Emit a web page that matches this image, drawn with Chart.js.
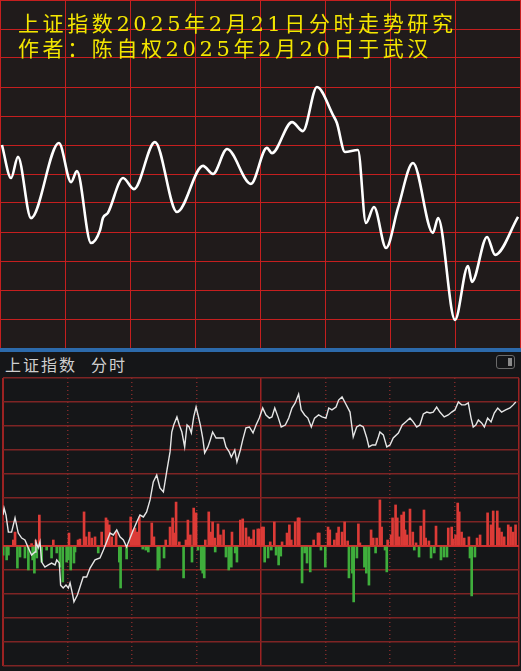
<!DOCTYPE html>
<html>
<head>
<meta charset="utf-8">
<script src="https://cdn.jsdelivr.net/npm/chart.js@4/dist/chart.umd.min.js"></script>
<style>
body { margin: 0; background: #151618; width: 521px; height: 671px; overflow: hidden; position: relative; font-family: "Noto Sans CJK SC", sans-serif; }
#top { position: absolute; left: 0; top: 0; width: 521px; height: 348px; background: #201b1b; }
#topChart { position: absolute; left: 0; top: 0; }
#title { position: absolute; left: 18px; top: 12px; color: #f3e600; font-family: "DejaVu Serif", "Noto Sans CJK SC"; font-size: 21px; letter-spacing: 3.6px; line-height: 25px; white-space: nowrap; }
#sep { position: absolute; left: 0; top: 348px; width: 521px; height: 4px; background: #2c6aab; }
#head { position: absolute; left: 5px; top: 354px; color: #cfcfcf; font-size: 16px; letter-spacing: 2px; line-height: 20px; white-space: nowrap; }
#btn { position: absolute; left: 496px; top: 355px; width: 17px; height: 12px; border: 1.5px solid #6a6a6a; border-radius: 3px; }
#btn i { position: absolute; right: 2px; top: 2px; width: 4px; height: 8px; background: #8a8a8a; }
#botChart { position: absolute; left: 0; top: 377px; }
</style>
</head>
<body>
<div id="top"><canvas id="topChart" width="521" height="348"></canvas></div>
<div id="title">上证指数2025年2月21日分时走势研究<br>作者：陈自权2025年2月20日于武汉</div>
<div id="sep"></div>
<div id="head"><span>上证指数</span><span style="margin-left:14px">分时</span></div>
<div id="btn"><i></i></div>
<canvas id="botChart" width="521" height="291"></canvas>
<script>
// 上图：手绘的预测走势（分钟, 格数）
const topMin = [0.9, 5.1, 8.3, 14.3, 27.2, 32.8, 35.5, 42.0, 46.2, 47.5, 49.8, 56.8, 61.8, 71.5, 81.7, 93.7, 98.3, 104.8, 115.8, 123.2, 125.5, 134.8, 139.8, 146.3, 153.7, 155.5, 159.2, 165.2, 168.9, 172.6, 178.2, 183.7, 190.6, 199.8, 202.2, 210.0, 216.0, 217.8, 224.8, 228.5, 239.1];
const topVal = [7.0, 5.86, 6.59, 4.48, 7.07, 5.72, 6.1, 3.62, 4.07, 4.48, 4.66, 5.86, 5.48, 7.1, 4.69, 6.28, 6.0, 6.86, 5.66, 6.9, 6.72, 7.79, 7.48, 9.0, 8.03, 7.76, 6.76, 6.83, 4.31, 4.86, 3.45, 4.83, 6.38, 3.97, 4.48, 0.97, 2.83, 2.28, 3.83, 3.21, 4.52];

// 下图：实际分时线
const priceMin = [0, 0.5, 1.4, 2.5, 4.0, 5.6, 7.1, 8.7, 10.2, 11.8, 13.3, 14.9, 15.3, 16.4, 17.2, 18.0, 19.5, 21.1, 22.6, 24.2, 25.0, 26.2, 26.8, 28.0, 29.3, 30.4, 31.2, 32.4, 33.0, 34.6, 35.8, 37.3, 38.9, 40.5, 42.8, 45.1, 46.7, 48.2, 49.8, 51.3, 52.9, 54.4, 56.0, 57.5, 59.1, 60.6, 62.2, 63.7, 65.3, 66.8, 68.4, 69.9, 71.5, 73.0, 74.6, 76.1, 77.7, 78.5, 79.4, 80.9, 82.0, 83.2, 84.5, 85.6, 86.6, 87.6, 88.7, 89.8, 90.7, 91.8, 92.9, 93.8, 95.3, 96.4, 97.5, 99.1, 100.6, 102.6, 103.7, 105.2, 106.2, 107.8, 108.8, 110.4, 111.5, 113.0, 114.6, 116.3, 117.7, 119.2, 120.8, 122.3, 123.9, 125.1, 126.4, 127.9, 129.4, 131.3, 132.9, 134.4, 135.9, 137.5, 138.7, 140.3, 141.8, 143.4, 144.9, 146.8, 148.4, 150.2, 151.5, 153.0, 154.9, 156.1, 157.7, 159.2, 161.4, 162.9, 164.5, 166.0, 167.6, 169.2, 170.2, 171.8, 173.3, 174.6, 175.3, 176.9, 178.5, 180.0, 181.5, 183.9, 185.7, 187.3, 189.3, 190.8, 192.4, 193.9, 195.5, 197.1, 198.6, 200.1, 201.7, 203.2, 205.2, 207.1, 208.7, 210.2, 211.8, 213.3, 214.9, 216.4, 217.7, 218.7, 219.9, 221.1, 222.6, 223.9, 225.4, 227.0, 228.5, 230.1, 231.9, 233.8, 235.8, 237.3, 238.5];
const priceVal = [1.29, 1.58, 1.29, 0.58, 0.58, 1.17, 0.54, 0.33, 0.25, -0.08, -0.38, -0.25, 0.17, -0.08, 0.17, -0.67, -0.88, -0.79, -0.71, -0.79, -0.58, -0.71, -1.63, -1.75, -1.63, -1.75, -1.54, -2.04, -2.33, -2.04, -1.71, -1.29, -1.29, -0.92, -0.58, -0.5, -0.17, 0.17, 0.54, 0.46, 0.67, 0.38, 0.25, -0.04, 0.33, 0.67, 1.0, 1.29, 1.21, 1.42, 1.92, 2.67, 2.96, 2.42, 2.25, 3.08, 3.92, 4.75, 5.04, 5.38, 5.04, 4.75, 4.13, 5.04, 4.96, 4.71, 5.38, 5.79, 5.46, 5.04, 4.5, 3.88, 4.13, 4.42, 4.75, 4.5, 4.5, 4.5, 4.13, 3.92, 3.71, 4.0, 3.5, 4.0, 4.42, 4.92, 4.96, 4.71, 5.04, 5.33, 5.75, 5.46, 5.33, 5.38, 5.75, 5.38, 4.96, 5.04, 5.33, 5.75, 5.96, 6.33, 5.67, 5.46, 5.33, 4.96, 5.33, 5.46, 5.38, 5.33, 5.75, 5.67, 5.79, 6.08, 6.21, 5.96, 5.58, 4.54, 4.96, 5.04, 4.96, 4.5, 4.13, 4.21, 4.21, 4.54, 4.75, 4.63, 4.13, 4.21, 4.5, 4.71, 5.04, 5.17, 5.33, 5.17, 4.96, 5.04, 5.5, 5.58, 5.54, 5.58, 5.79, 5.58, 5.38, 5.46, 5.58, 5.67, 6.0, 5.88, 5.88, 5.96, 5.33, 4.96, 5.04, 5.25, 5.13, 4.96, 5.33, 5.17, 5.54, 5.75, 5.58, 5.67, 5.75, 5.88, 6.0];

// 下图：量柱（红正绿负）
const volMin = [4.8, 5.6, 13.3, 15.3, 16.9, 23.4, 30.7, 34.9, 35.8, 37.7, 38.6, 40.1, 41.3, 42.8, 45.9, 47.9, 48.5, 49.4, 50.6, 52.6, 59.4, 60.3, 61.4, 62.2, 63.4, 69.2, 70.2, 75.7, 77.7, 78.9, 79.4, 80.5, 82.0, 85.1, 86.0, 87.1, 88.7, 89.8, 94.1, 95.7, 96.9, 97.5, 98.5, 100.0, 101.1, 102.6, 106.5, 110.4, 111.5, 113.0, 114.3, 115.5, 116.6, 118.5, 119.2, 120.5, 121.2, 124.3, 126.2, 129.8, 132.1, 133.2, 134.1, 135.9, 137.2, 137.8, 144.5, 146.5, 147.1, 151.2, 152.0, 154.1, 155.3, 156.1, 157.7, 158.9, 160.3, 165.3, 166.0, 171.2, 172.2, 173.8, 175.3, 176.1, 178.9, 180.5, 181.2, 182.6, 183.4, 184.2, 185.4, 186.4, 187.0, 187.9, 189.3, 190.6, 192.1, 194.3, 195.8, 196.6, 198.1, 201.4, 207.1, 208.7, 209.4, 210.5, 211.5, 212.2, 213.3, 214.5, 216.7, 220.5, 221.9, 225.4, 227.0, 228.0, 229.9, 230.8, 231.9, 233.1, 235.0, 236.1, 237.3, 238.4,
  0.1, 1.7, 2.5, 6.7, 7.9, 10.2, 11.8, 13.8, 14.6, 15.7, 18.0, 20.3, 22.6, 25.0, 26.5, 27.8, 29.6, 30.4, 31.5, 33.0, 33.5, 44.3, 54.1, 54.7, 57.5, 65.0, 66.4, 67.6, 72.0, 72.7, 74.9, 84.0, 87.9, 90.7, 92.2, 92.9, 93.6, 98.7, 103.7, 105.0, 106.2, 108.0, 108.8, 121.7, 123.3, 124.8, 127.0, 128.2, 129.2, 139.1, 140.3, 141.4, 142.9, 147.9, 149.9, 160.9, 162.5, 163.1, 164.6, 168.1, 169.0, 170.2, 173.3, 177.7, 178.5, 191.3, 193.5, 199.1, 200.6, 203.7, 205.1, 206.5, 217.2, 218.0, 219.5];
const volVal = [0.25, 0.58, 0.1, 0.25, 1.29, 0.25, 0.54, 0.25, 0.29, 1.42, 0.38, 0.58, 0.33, 0.38, 0.58, 1.17, 1.08, 0.88, 0.38, 0.58, 1.21, 0.67, 0.75, 0.58, 1.21, 0.96, 0.38, 0.25, 0.79, 1.17, 0.54, 1.83, 0.17, 0.25, 1.08, 0.46, 1.58, 1.38, 0.25, 1.42, 0.58, 1.0, 0.33, 0.92, 0.46, 0.67, 0.58, 1.08, 1.13, 0.75, 0.38, 0.29, 0.67, 0.71, 0.71, 0.79, 0.79, 0.17, 1.0, 0.17, 0.54, 0.88, 0.25, 1.0, 1.17, 1.17, 0.25, 0.54, 0.54, 0.79, 0.67, 0.25, 0.54, 0.79, 0.58, 1.0, 0.21, 0.92, 0.13, 0.67, 0.33, 0.33, 1.92, 0.79, 0.25, 0.46, 1.17, 1.71, 1.17, 0.38, 1.29, 1.42, 0.67, 0.46, 1.54, 0.58, 0.13, 0.83, 1.5, 0.33, 0.21, 0.83, 0.75, 0.79, 0.29, 0.46, 1.79, 1.42, 0.58, 0.33, 0.38, 0.33, 0.46, 1.38, 0.88, 1.46, 1.46, 0.75, 0.58, 0.38, 0.88, 0.79, 0.58, 0.88,
  -0.38, -0.58, -0.38, -0.92, -0.46, -0.5, -1.0, -0.58, -1.13, -0.5, -0.67, -0.17, -0.5, -0.29, -0.88, -1.5, -0.67, -0.58, -1.0, -0.71, -0.25, -0.29, -0.67, -1.75, -0.54, -0.13, -0.17, -0.25, -1.0, -0.92, -0.5, -1.33, -0.67, -0.17, -1.0, -1.13, -1.33, -0.25, -0.46, -1.0, -0.88, -0.29, -0.67, -0.67, -0.5, -0.17, -0.38, -0.79, -0.42, -1.54, -0.29, -0.71, -1.08, -0.17, -0.88, -1.33, -1.13, -2.33, -0.5, -0.88, -1.13, -1.63, -0.29, -0.17, -1.08, -0.17, -0.46, -0.5, -0.29, -0.58, -0.46, -0.46, -0.5, -2.08, -0.46];

const sideTicks = [0, 120, 240];

function hideAxis(scale) {
  if (scale.isHorizontal()) scale.height = 0; else scale.width = 0;
}

new Chart(document.getElementById('topChart'), {
  type: 'line',
  data: {
    datasets: [{
      data: topMin.map((m, i) => ({ x: m, y: topVal[i] })),
      borderColor: '#ffffff',
      borderWidth: 2.6,
      pointRadius: 0,
      cubicInterpolationMode: 'monotone',
      fill: false
    }]
  },
  options: {
    responsive: false, animation: false, devicePixelRatio: 1,
    layout: { padding: { left: 0, right: 1, top: 0, bottom: 0 } },
    plugins: { legend: { display: false }, tooltip: { enabled: false } },
    scales: {
      x: { type: 'linear', min: 0, max: 240, ticks: { display: false, stepSize: 30 },
           grid: { color: '#c51f1f', lineWidth: 1, drawTicks: false }, border: { display: false }, afterFit: hideAxis },
      y: { min: 0, max: 12, ticks: { display: false, stepSize: 1 },
           grid: { color: '#c51f1f', lineWidth: 1, drawTicks: false }, border: { display: false }, afterFit: hideAxis }
    }
  }
});

new Chart(document.getElementById('botChart'), {
  type: 'bar',
  data: {
    datasets: [
      { type: 'line', data: priceMin.map((m, i) => ({ x: m, y: priceVal[i] })),
        borderColor: '#e6e6e6', borderWidth: 1.4, pointRadius: 0, tension: 0, order: 0 },
      { type: 'bar', data: volMin.map((m, i) => ({ x: m, y: volVal[i] })),
        backgroundColor: ctx => (ctx.raw && ctx.raw.y >= 0) ? '#dc3b37' : '#3fae3c',
        barThickness: 2, order: 1 }
    ]
  },
  options: {
    responsive: false, animation: false, devicePixelRatio: 1,
    layout: { padding: { left: 3, right: 2, top: 1, bottom: 2 } },
    plugins: { legend: { display: false }, tooltip: { enabled: false } },
    scales: {
      x: { type: 'linear', min: 0, max: 240, offset: false, ticks: { display: false, stepSize: 30 },
           grid: { offset: false, drawTicks: false,
                   color: ctx => sideTicks.includes(ctx.tick && ctx.tick.value) ? '#9c2222' : '#7e2a2a',
                   lineWidth: ctx => (ctx.tick && ctx.tick.value === 0) ? 2 : 1.5 },
           border: { display: false, dash: ctx => sideTicks.includes(ctx.tick && ctx.tick.value) ? [] : [1, 3] },
           afterFit: hideAxis },
      y: { min: -5, max: 7, ticks: { display: false, stepSize: 1 },
           grid: { drawTicks: false,
                   color: ctx => (ctx.tick && ctx.tick.value === 0) ? '#cf2f2f' : '#7e2424',
                   lineWidth: ctx => (ctx.tick && ctx.tick.value === 0) ? 2 : 1.5 },
           border: { display: false }, afterFit: hideAxis }
    }
  }
});
</script>
</body>
</html>
